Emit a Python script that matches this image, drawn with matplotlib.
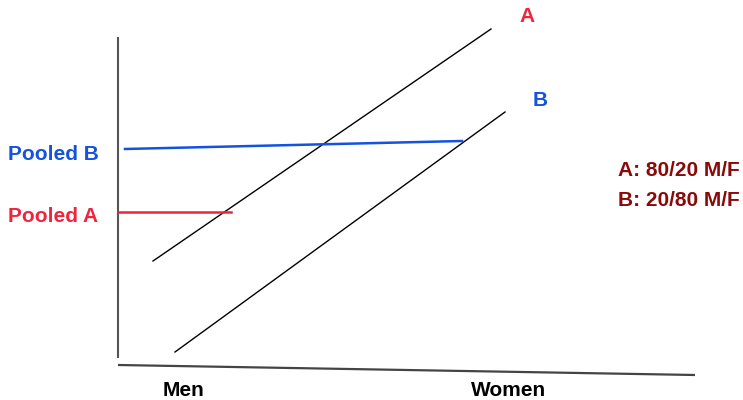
import matplotlib
matplotlib.use("Agg")
import matplotlib.pyplot as plt

# Diagram coordinates (pixel-like units, y grows downward)
axis_x_line = ([118, 695], [365, 375])
axis_y_line = ([118, 118], [37, 358])
line_A = ([153, 491], [261, 29])
line_B = ([175, 505], [352, 112])
pooled_B = ([125, 462], [149, 141])
pooled_A = ([118, 231], [212, 212])

category_labels = ["Men", "Women"]
category_pos = [183, 509]
legend_lines = ["A: 80/20 M/F", "B: 20/80 M/F"]

RED = "#f0243c"
BLUE = "#1452e0"
DARKRED = "#8a0a0a"

fig = plt.figure(figsize=(7.43, 4.00), dpi=100)
ax = fig.add_axes([0, 0, 1, 1])
ax.set_xlim(0, 743)
ax.set_ylim(400, 0)
ax.axis("off")

ax.plot(*axis_y_line, color="#555555", lw=1.5, solid_capstyle="butt")
ax.plot(*axis_x_line, color="#444444", lw=1.6, solid_capstyle="butt")
ax.plot(*line_A, color="black", lw=1.0)
ax.plot(*line_B, color="black", lw=1.0)
ax.plot(*pooled_B, color=BLUE, lw=1.8)
ax.plot(*pooled_A, color=RED, lw=1.8)

font = dict(family=["Liberation Sans", "DejaVu Sans"], fontweight="bold", fontsize=15)
ax.text(8, 155, "Pooled B", color=BLUE, ha="left", va="center", **font)
ax.text(8, 217, "Pooled A", color=RED, ha="left", va="center", **font)
ax.text(527, 16, "A", color=RED, ha="center", va="center", **font)
ax.text(540, 101, "B", color=BLUE, ha="center", va="center", **font)
for i, t in enumerate(legend_lines):
    ax.text(740, 171 + 29 * i, t, color=DARKRED, ha="right", va="center", **font)
for p, t in zip(category_pos, category_labels):
    ax.text(p, 391, t, color="black", ha="center", va="center", **font)

fig.savefig("out.png", dpi=100)
